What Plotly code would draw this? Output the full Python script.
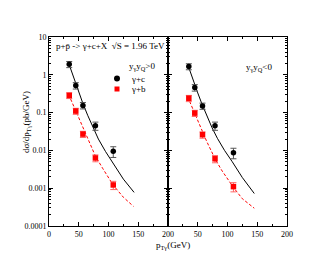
import plotly.graph_objects as go

# ---------------- data ----------------
pt_data = [34, 45, 57, 78, 108]

# y_gamma * y_Q > 0  (left panel)
c_pos = [1.9, 0.52, 0.155, 0.045, 0.0095]
c_pos_err = [0.35, 0.10, 0.03, 0.011, 0.003]
b_pos = [0.285, 0.11, 0.027, 0.0063, 0.00122]
b_pos_err = [0.05, 0.02, 0.005, 0.0013, 0.0003]

# y_gamma * y_Q < 0  (right panel)
pt_data_r = [35, 45, 58, 79, 110]
c_neg = [1.66, 0.46, 0.15, 0.045, 0.0087]
c_neg_err = [0.3, 0.09, 0.028, 0.011, 0.0027]
b_neg = [0.24, 0.097, 0.026, 0.006, 0.0011]
b_neg_err = [0.045, 0.018, 0.005, 0.0013, 0.0003]

# theory curves (log10 of dsigma/dpT)
pt_th_c = [33, 40, 45, 50, 57, 65, 72, 83, 95, 108, 125, 143]
lg_c_pos = [0.31, -0.02, -0.25, -0.46, -0.76, -1.07, -1.33, -1.70, -2.03, -2.36, -2.76, -3.11]
pt_th_b = [33, 40, 45, 50, 57, 65, 78, 90, 108, 125, 142]
lg_b_pos = [-0.52, -0.78, -0.96, -1.15, -1.42, -1.70, -2.15, -2.47, -2.92, -3.24, -3.48]

pt_th_c_r = [33, 40, 45, 50, 57, 65, 74, 83, 95, 108, 125, 145]
lg_c_neg = [0.28, -0.05, -0.27, -0.48, -0.77, -1.08, -1.40, -1.68, -2.00, -2.30, -2.72, -3.14]
pt_th_b_r = [33, 40, 45, 50, 57, 65, 79, 90, 110, 125, 145]
lg_b_neg = [-0.58, -0.84, -1.02, -1.20, -1.47, -1.76, -2.22, -2.52, -2.98, -3.28, -3.53]

x_ticks_left = [0, 50, 100, 150, 200]
x_ticks_right = [50, 100, 150, 200]
y_ticks = [1e-4, 1e-3, 1e-2, 1e-1, 1, 10]
y_ticktext = ["0.0001", "0.001", "0.01", "0.1", "1", "10"]

# ---------------- figure ----------------
FONT = "Liberation Serif"
fig = go.Figure()

def add_panel(xa, ya, xd, cvals, cerr, bvals, berr, xtc, lgc, xtb, lgb):
    fig.add_trace(go.Scatter(x=xtc, y=[10 ** v for v in lgc], mode="lines",
                             line=dict(color="black", width=1), xaxis=xa, yaxis=ya,
                             showlegend=False, hoverinfo="skip"))
    fig.add_trace(go.Scatter(x=xtb, y=[10 ** v for v in lgb], mode="lines",
                             line=dict(color="red", width=1, dash="3px,2px"), xaxis=xa, yaxis=ya,
                             showlegend=False, hoverinfo="skip"))
    fig.add_trace(go.Scatter(x=xd, y=cvals, mode="markers",
                             marker=dict(color="black", size=5.5, symbol="circle"),
                             error_y=dict(type="data", array=cerr, color="#555555", thickness=1, width=3),
                             xaxis=xa, yaxis=ya, showlegend=False))
    fig.add_trace(go.Scatter(x=xd, y=bvals, mode="markers",
                             marker=dict(color="red", size=5.5, symbol="square"),
                             error_y=dict(type="data", array=berr, color="#ff6666", thickness=1, width=3),
                             xaxis=xa, yaxis=ya, showlegend=False))

add_panel("x", "y", pt_data, c_pos, c_pos_err, b_pos, b_pos_err, pt_th_c, lg_c_pos, pt_th_b, lg_b_pos)
add_panel("x2", "y2", pt_data_r, c_neg, c_neg_err, b_neg, b_neg_err, pt_th_c_r, lg_c_neg, pt_th_b_r, lg_b_neg)

minor_y = [m * 10 ** e for e in range(-4, 1) for m in range(2, 10)]

axis_common = dict(showline=True, linecolor="black", linewidth=1, mirror="ticks",
                   ticks="inside", ticklen=4, tickcolor="black", tickwidth=1,
                   showgrid=False, zeroline=False, color="black",
                   tickfont=dict(family=FONT, size=8, color="black"))

fig.update_layout(
    width=332, height=257,
    margin=dict(l=41, r=53, t=29, b=39),
    paper_bgcolor="white", plot_bgcolor="white",
    font=dict(family=FONT, color="black", size=8),
    xaxis=dict(domain=[0, 0.5], range=[0, 200], tickvals=x_ticks_left,
               minor=dict(tickvals=[25, 75, 125, 175], ticks="inside", ticklen=2, tickcolor="black"),
               anchor="y", **axis_common),
    xaxis2=dict(domain=[0.5, 1], range=[0, 200], tickvals=x_ticks_right,
                minor=dict(tickvals=[25, 75, 125, 175], ticks="inside", ticklen=2, tickcolor="black"),
                anchor="y2", **axis_common),
    yaxis=dict(type="log", range=[-4, 1], tickvals=y_ticks, ticktext=y_ticktext,
               minor=dict(tickvals=minor_y, ticks="inside", ticklen=2, tickcolor="black"),
               anchor="x", **axis_common),
    yaxis2=dict(type="log", range=[-4, 1], tickvals=y_ticks, showticklabels=False,
                minor=dict(tickvals=minor_y, ticks="inside", ticklen=2, tickcolor="black"),
                anchor="x2", **axis_common),
)

def px2x(px):
    return (px - 41) / 238.0

def py2y(py):
    return (218 - py) / 189.0

tf = dict(family=FONT, size=9, color="black")
ann = [
    dict(text="p+p\u0304 -> \u03b3+c+X  \u221aS = 1.96 TeV", x=px2x(46), y=py2y(38),
         xanchor="left", yanchor="middle", font=tf),
    dict(text="y<sub>\u03b3</sub>y<sub>Q</sub>>0", x=px2x(119), y=py2y(58),
         xanchor="left", yanchor="middle", font=tf),
    dict(text="\u03b3+c", x=px2x(121), y=py2y(70.5), xanchor="left", yanchor="middle", font=tf),
    dict(text="\u03b3+b", x=px2x(121), y=py2y(81), xanchor="left", yanchor="middle", font=tf),
    dict(text="y<sub>\u03b3</sub>y<sub>Q</sub><0", x=px2x(236), y=py2y(59),
         xanchor="left", yanchor="middle", font=tf),
    dict(text="d\u03c3/dp<sub>T\u03b3</sub>(pb/GeV)", x=px2x(18), y=py2y(114), textangle=-90,
         xanchor="center", yanchor="middle", font=tf),
    dict(text="p<sub>T\u03b3</sub>(GeV)", x=px2x(164.5), y=py2y(237),
         xanchor="center", yanchor="middle", font=tf),
]
for a in ann:
    a.update(xref="paper", yref="paper", showarrow=False)
fig.update_layout(annotations=ann)

fig.update_layout(shapes=[
    dict(type="circle", xref="paper", yref="paper",
         x0=px2x(106), x1=px2x(112), y0=py2y(73.5), y1=py2y(67.5),
         fillcolor="black", line=dict(color="black", width=0)),
    dict(type="rect", xref="paper", yref="paper",
         x0=px2x(106.5), x1=px2x(111.5), y0=py2y(83.5), y1=py2y(78.5),
         fillcolor="red", line=dict(color="red", width=0)),
])

fig.write_html("out.html")
